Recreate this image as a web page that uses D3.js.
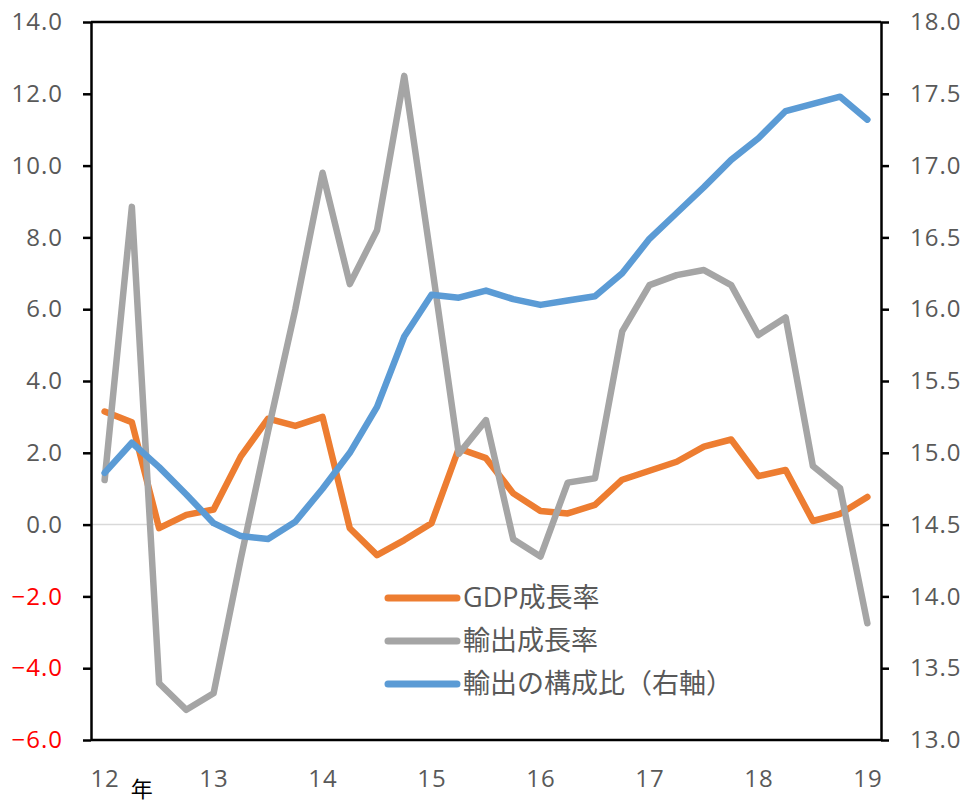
<!DOCTYPE html>
<html>
<head>
<meta charset="utf-8">
<script src="https://cdn.jsdelivr.net/npm/d3@7"></script>
<style>
  html, body { margin: 0; padding: 0; background: #fff; }
  svg { display: block; }
  .tick text { font-family: "Open Sans", "Noto Sans CJK JP", sans-serif; }
</style>
</head>
<body>
<svg id="chart" width="965" height="805"></svg>
<script>
// quarters 2012Q1 - 2019Q1
const quarters = [
  "12Q1","12Q2","12Q3","12Q4","13Q1","13Q2","13Q3","13Q4",
  "14Q1","14Q2","14Q3","14Q4","15Q1","15Q2","15Q3","15Q4",
  "16Q1","16Q2","16Q3","16Q4","17Q1","17Q2","17Q3","17Q4",
  "18Q1","18Q2","18Q3","18Q4","19Q1"
];
const yearLabels = ["12","13","14","15","16","17","18","19"];

// GDP成長率 (left axis)
const gdpGrowth = [3.15, 2.85, -0.1, 0.27, 0.42, 1.9, 2.95, 2.75, 3.0, -0.1, -0.85, -0.43, 0.04, 2.12, 1.85, 0.87,
                   0.38, 0.31, 0.55, 1.25, 1.5, 1.75, 2.17, 2.37, 1.35, 1.52, 0.1, 0.3, 0.77];
// 輸出成長率 (left axis)
const exportGrowth = [1.24, 8.85, -4.42, -5.16, -4.7, -0.95, 2.6, 6.0, 9.8, 6.7, 8.2, 12.5, 7.3, 1.97, 2.91, -0.41,
                      -0.89, 1.17, 1.29, 5.38, 6.67, 6.95, 7.09, 6.67, 5.28, 5.77, 1.63, 1.01, -2.75];
// 輸出の構成比 (right axis)
const exportShare = [14.86, 15.07, 14.9, 14.71, 14.51, 14.42, 14.40, 14.52, 14.75, 15.0, 15.32, 15.81, 16.10, 16.08, 16.13, 16.07,
                     16.03, 16.06, 16.09, 16.25, 16.49, 16.67, 16.85, 17.04, 17.19, 17.38, 17.43, 17.48, 17.32];

const leftTicks = [-6, -4, -2, 0, 2, 4, 6, 8, 10, 12, 14];
const rightTicks = [13, 13.5, 14, 14.5, 15, 15.5, 16, 16.5, 17, 17.5, 18];
const seriesNames = ["GDP成長率", "輸出成長率", "輸出の構成比（右軸）"];
const seriesColors = ["#ED7D31", "#A5A5A5", "#5B9BD5"];

const plotLeft = 91, plotRight = 881, plotTop = 22, plotBottom = 740;
const textColor = "#595959";
const font = '"Open Sans", "Noto Sans CJK JP", sans-serif';

const svg = d3.select("#chart");

const x = d3.scalePoint().domain(quarters).range([plotLeft, plotRight]).padding(0.5);
const yL = d3.scaleLinear().domain([-6, 14]).range([plotBottom, plotTop]);
const yR = d3.scaleLinear().domain([13, 18]).range([plotBottom, plotTop]);

// zero line
svg.append("line")
  .attr("x1", plotLeft).attr("x2", plotRight)
  .attr("y1", yL(0)).attr("y2", yL(0))
  .attr("stroke", "#D9D9D9").attr("stroke-width", 1.5);

// series
const lineL = d3.line().x((d, i) => x(quarters[i])).y(d => yL(d));
const lineR = d3.line().x((d, i) => x(quarters[i])).y(d => yR(d));

[[gdpGrowth, lineL], [exportGrowth, lineL], [exportShare, lineR]].forEach(([data, gen], k) => {
  svg.append("path")
    .datum(data)
    .attr("d", gen)
    .attr("fill", "none")
    .attr("stroke", seriesColors[k])
    .attr("stroke-width", 6.5)
    .attr("stroke-linejoin", "round")
    .attr("stroke-linecap", "round");
});

// frame top
svg.append("line")
  .attr("x1", plotLeft).attr("x2", plotRight)
  .attr("y1", plotTop).attr("y2", plotTop)
  .attr("stroke", "#000").attr("stroke-width", 2.5);

// left axis
const gL = svg.append("g")
  .attr("transform", "translate(" + plotLeft + ",0)")
  .call(d3.axisLeft(yL).tickValues(leftTicks).tickFormat(d3.format(".1f")).tickSize(8).tickSizeOuter(0).tickPadding(20));

// right axis
const gR = svg.append("g")
  .attr("transform", "translate(" + plotRight + ",0)")
  .call(d3.axisRight(yR).tickValues(rightTicks).tickFormat(d3.format(".1f")).tickSize(8).tickSizeOuter(0).tickPadding(21));

// bottom axis
const gB = svg.append("g")
  .attr("transform", "translate(0," + plotBottom + ")")
  .call(d3.axisBottom(x)
    .tickValues(quarters.filter(q => q.endsWith("Q1")))
    .tickFormat(q => yearLabels[quarters.indexOf(q) / 4])
    .tickSize(0).tickSizeOuter(0).tickPadding(30));

[gL, gR, gB].forEach(g => {
  g.select(".domain").attr("stroke", "#000").attr("stroke-width", 2.5);
  g.selectAll(".tick line").attr("stroke", "#000").attr("stroke-width", 2.5);
  g.selectAll(".tick text")
    .attr("fill", textColor)
    .style("font-size", "24px")
    .style("letter-spacing", "1px");
});
gL.selectAll(".tick text").attr("fill", d => d < 0 ? "#FF0000" : textColor);
gB.select(".domain").attr("d", "M" + plotLeft + ",0H" + plotRight);

// 年 label (partly cut off in the original, kept fully visible here)
svg.append("text")
  .attr("x", x(quarters[1]) + 10)
  .attr("y", 797)
  .attr("text-anchor", "middle")
  .attr("fill", "#000")
  .style("font-family", font)
  .style("font-size", "22px")
  .text("年");

// legend
const legend = svg.append("g").attr("transform", "translate(388,598)");
seriesNames.forEach((name, i) => {
  const row = legend.append("g").attr("transform", "translate(0," + (i * 43) + ")");
  row.append("line")
    .attr("x1", 0).attr("x2", 69)
    .attr("stroke", seriesColors[i]).attr("stroke-width", 7)
    .attr("stroke-linecap", "round");
  row.append("text")
    .attr("x", 75).attr("y", 0)
    .attr("dy", "0.35em")
    .attr("fill", textColor)
    .style("font-family", font)
    .style("font-size", "27px")
    .text(name);
});
</script>
</body>
</html>
